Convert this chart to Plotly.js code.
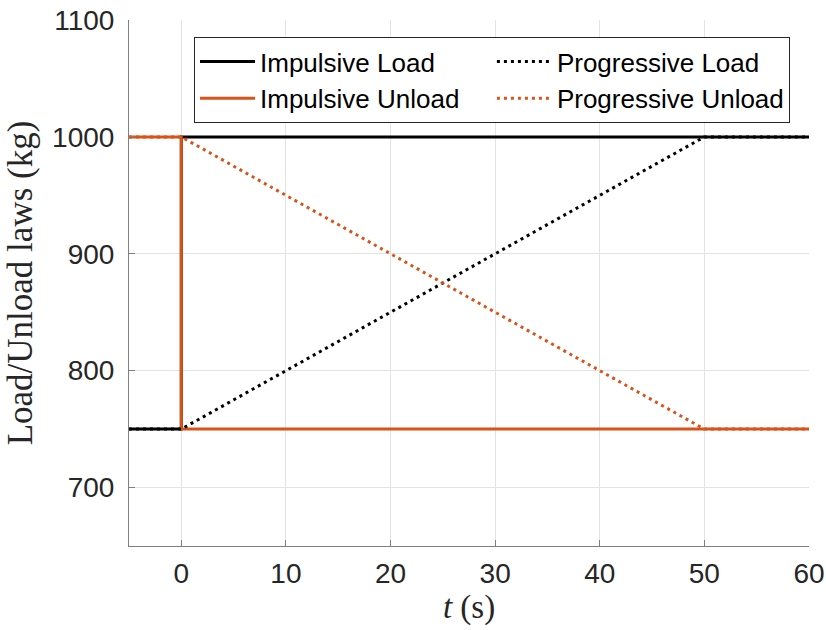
<!DOCTYPE html>
<html>
<head>
<meta charset="utf-8">
<script src="https://cdn.plot.ly/plotly-3.0.1.min.js"></script>
<style>html,body{margin:0;padding:0;background:#fff;}#chart{width:826px;height:630px;}</style>
</head>
<body>
<div id="chart"></div>
<script>
// Data
const seriesNames = ["Impulsive Load", "Impulsive Unload", "Progressive Load", "Progressive Unload"];
const impulsiveLoadT = [-5, 0, 0, 60];
const impulsiveLoadY = [750, 750, 1000, 1000];
const impulsiveUnloadT = [-5, 0, 0, 60];
const impulsiveUnloadY = [1000, 1000, 750, 750];
const progressiveLoadT = [-5, 0, 50, 60];
const progressiveLoadY = [750, 750, 1000, 1000];
const progressiveUnloadT = [-5, 0, 50, 60];
const progressiveUnloadY = [1000, 1000, 750, 750];

const black = "#000000";
const orange = "#D95319";
const sansFont = "'Liberation Sans', Arial, Helvetica, sans-serif";
const serifFont = "'Liberation Serif', 'Times New Roman', serif";

const traces = [
  {x: impulsiveLoadT, y: impulsiveLoadY, name: seriesNames[0], mode: "lines",
   line: {color: black, width: 3}, legendrank: 1},
  {x: impulsiveUnloadT, y: impulsiveUnloadY, name: seriesNames[1], mode: "lines",
   line: {color: orange, width: 3}, legendrank: 3},
  {x: progressiveLoadT, y: progressiveLoadY, name: seriesNames[2], mode: "lines",
   line: {color: black, width: 3, dash: "3px,4px"}, legendrank: 2},
  {x: progressiveUnloadT, y: progressiveUnloadY, name: seriesNames[3], mode: "lines",
   line: {color: orange, width: 3, dash: "3px,4px"}, legendrank: 4}
];

const layout = {
  width: 826, height: 630,
  margin: {l: 129, r: 17, t: 20, b: 84},
  paper_bgcolor: "#fff", plot_bgcolor: "#fff",
  showlegend: true,
  font: {family: sansFont, color: "#262626"},
  xaxis: {
    range: [-5, 60], tick0: 0, dtick: 10,
    showgrid: true, gridcolor: "#e3e3e3", gridwidth: 1,
    zeroline: false, showline: true, linecolor: "#7f7f7f", linewidth: 1,
    ticks: "inside", ticklen: 6, tickcolor: "#7f7f7f",
    ticklabelstandoff: 2,
    tickfont: {family: sansFont, size: 28, color: "#262626"},
    title: {text: "<i>t</i> (s)", font: {family: serifFont, size: 33, color: "#262626"}, standoff: 4}
  },
  yaxis: {
    range: [650, 1100], tick0: 700, dtick: 100,
    showgrid: true, gridcolor: "#e3e3e3", gridwidth: 1,
    zeroline: false, showline: true, linecolor: "#7f7f7f", linewidth: 1,
    ticks: "inside", ticklen: 6, tickcolor: "#7f7f7f",
    ticklabelstandoff: 8,
    tickfont: {family: sansFont, size: 28, color: "#262626"},
    title: {text: "Load/Unload laws (kg)", font: {family: serifFont, size: 35, color: "#262626"}, standoff: 8}
  },
  legend: {
    orientation: "h", x: 0.0956, y: 0.9677, xanchor: "left", yanchor: "top",
    bgcolor: "#fff", bordercolor: "#262626", borderwidth: 1,
    font: {family: sansFont, size: 26, color: "#000"},
    itemwidth: 55,
    traceorder: "normal"
  }
};

Plotly.newPlot("chart", traces, layout, {displayModeBar: false, staticPlot: true});
</script>
</body>
</html>
